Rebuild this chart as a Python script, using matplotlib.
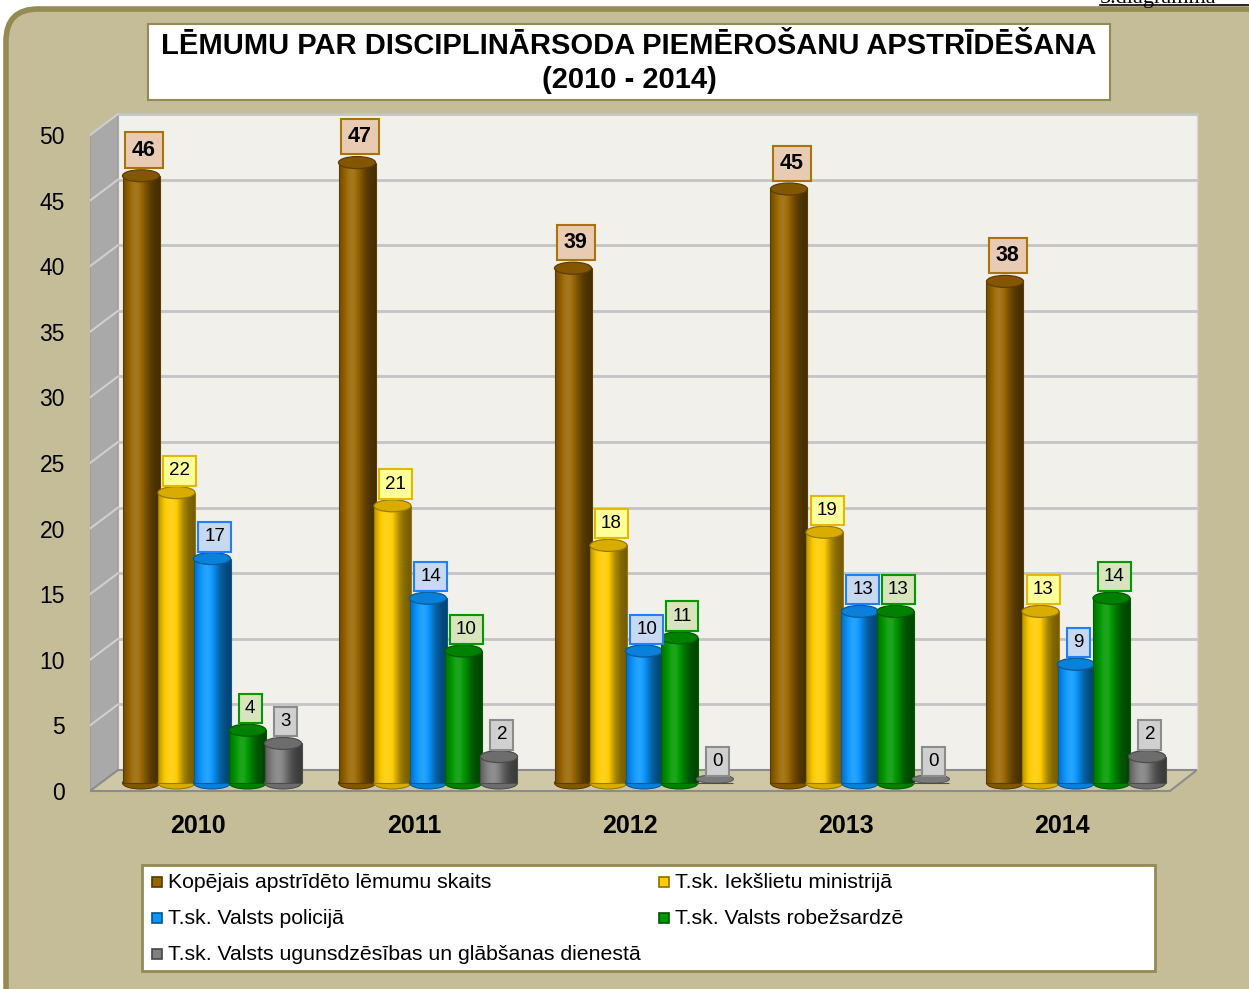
import numpy as np
import matplotlib
matplotlib.use("Agg")
import matplotlib.pyplot as plt
from matplotlib.patches import Ellipse, Polygon, Rectangle, FancyBboxPatch
from matplotlib.colors import to_rgb

plt.rcParams["font.family"] = ["Liberation Sans", "DejaVu Sans"]

# --- data ---------------------------------------------------------------
years = ["2010", "2011", "2012", "2013", "2014"]
series_names = [
    "Kopējais apstrīdēto lēmumu skaits",
    "T.sk. Iekšlietu ministrijā",
    "T.sk. Valsts policijā",
    "T.sk. Valsts robežsardzē",
    "T.sk. Valsts ugunsdzēsības un glābšanas dienestā",
]
total = [46, 47, 39, 45, 38]
interior = [22, 21, 18, 19, 13]
police = [17, 14, 10, 13, 9]
border_guard = [4, 10, 11, 13, 14]
fire_rescue = [3, 2, 0, 0, 2]
series = [total, interior, police, border_guard, fire_rescue]
yticks = list(range(0, 51, 5))

bar_colors = ["#996600", "#FFCC00", "#0A96FF", "#009900", "#808080"]
box_faces = ["#E8CBB2", "#FFFF99", "#C6D9F1", "#D8E4BC", "#D0D0D0"]
box_edges = ["#A8730A", "#E6B800", "#1E7FFF", "#009900", "#8C8C8C"]

OLIVE = "#948A54"
TAN = "#C4BD97"

# --- geometry helpers (pixel layout of the reference) --------------------
W, H = 1249, 989
PX_PER_UNIT = 13.2       # vertical pixels per value unit
WALL_PX_PER_UNIT = 13.12 # spacing of the gridlines / tick labels
BASE_PX = 783            # pixel row of value 0 (bar bottoms)
GROUP_PX0 = 212          # pixel column of first group centre
GROUP_STEP = 216         # pixels between groups


def ux(px):
    return (px - GROUP_PX0) / GROUP_STEP


def uy(py):
    return (BASE_PX - py) / PX_PER_UNIT


def shade_strip(color, n=80):
    rgb = np.array(to_rgb(color))
    t = np.linspace(0, 1, n)
    s = 0.6 + 0.6 * np.exp(-((t - 0.36) / 0.3) ** 2)
    s -= 0.15 * t
    out = np.empty((1, n, 3))
    for i, k in enumerate(s):
        if k <= 1:
            out[0, i] = rgb * k
        else:
            out[0, i] = rgb + (1 - rgb) * (k - 1) * 0.8
    return np.clip(out, 0, 1)


fig = plt.figure(figsize=(W / 100, H / 100), dpi=100)

# background / decoration axes in pixel coordinates
bg = fig.add_axes([0, 0, 1, 1], zorder=0)
bg.set_xlim(0, W)
bg.set_ylim(H, 0)
bg.axis("off")
bg.add_patch(FancyBboxPatch((6, 9), 1270, 1010,
                            boxstyle="round,pad=0,rounding_size=32",
                            fc=TAN, ec=OLIVE, lw=4))
bg.add_patch(Rectangle((148, 24), 962, 76, fc="white", ec=OLIVE, lw=1.5))
bg.text(629, 46, "LĒMUMU PAR DISCIPLINĀRSODA PIEMĒROŠANU APSTRĪDĒŠANA",
        ha="center", va="center", fontsize=21, fontweight="bold")
bg.text(629, 80, "(2010 - 2014)", ha="center", va="center",
        fontsize=21, fontweight="bold")
bg.text(1100, 3, "5.diagramma", ha="left", va="baseline",
        fontsize=16, family="Liberation Serif", clip_on=True)
bg.plot([1100, 1249], [5, 5], color="black", lw=1.2)

# legend (manual, row-major as in the reference)
bg.add_patch(Rectangle((142, 865), 1013, 106, fc="white", ec=OLIVE, lw=2))
leg_pos = [(157, 882), (664, 882), (157, 918), (664, 918), (157, 954)]
for (lx, ly), name, col in zip(leg_pos, series_names, bar_colors):
    dark = np.array(to_rgb(col)) * 0.55
    bg.add_patch(Rectangle((lx - 5, ly - 5), 10, 10, fc=col, ec=dark, lw=1.2))
    bg.text(lx + 11, ly + 1, name, ha="left", va="center", fontsize=15.3)

# main plotting axes
ax_l, ax_r, ax_t, ax_b = 90, 1200, 105, 795
ax = fig.add_axes([ax_l / W, 1 - ax_b / H, (ax_r - ax_l) / W, (ax_b - ax_t) / H],
                  zorder=1)
ax.patch.set_visible(False)
for sp in ax.spines.values():
    sp.set_visible(False)

xf0, xf1 = ux(90), ux(1170)
xb0, xb1 = ux(118), ux(1197)


def front_y(v):
    return uy(791 - WALL_PX_PER_UNIT * v)


def back_y(v):
    return uy(770 - WALL_PX_PER_UNIT * v)


# walls and floor
ax.add_patch(Polygon([(xb0, back_y(0)), (xb1, back_y(0)), (xb1, back_y(50)),
                      (xb0, back_y(50))], closed=True, fc="#F1F0EA",
                     ec="#D8D8D8", lw=1, zorder=0.5))
ax.add_patch(Polygon([(xf0, front_y(0)), (xb0, back_y(0)), (xb0, back_y(50)),
                      (xf0, front_y(50))], closed=True, fc="#A9A9A9",
                     ec="#9A9A9A", lw=1, zorder=0.6))
ax.add_patch(Polygon([(xf0, front_y(0)), (xf1, front_y(0)), (xb1, back_y(0)),
                      (xb0, back_y(0))], closed=True, fc="#CFC8A7",
                     ec="#8C8C8C", lw=1.5, zorder=0.7))
for v in yticks[1:]:
    ax.plot([xb0, xb1], [back_y(v)] * 2, color="#C4C4C4", lw=2, zorder=0.55)
    ax.plot([xf0, xb0], [front_y(v), back_y(v)], color="#CFCFCF",
            lw=1.5, zorder=0.65)

# cylinders
n = len(series)
step = 35.5 / GROUP_STEP
width = 37 / GROUP_STEP
eh = 12 / PX_PER_UNIT
x_groups = np.arange(len(years))
for j, (vals, col) in enumerate(zip(series, bar_colors)):
    xs = x_groups + (j - (n - 1) / 2) * step
    z = 2 + j
    rgb = np.array(to_rgb(col))
    edge = rgb * 0.6
    bars = ax.bar(xs, vals, width=width, bottom=0, fc="none", ec=edge,
                  lw=0.8, zorder=z + 0.2)
    strip = shade_strip(col)
    for x, v, rect in zip(xs, vals, bars):
        if v == 0:
            ax.add_patch(Ellipse((x, 0.3), width, eh * 0.7, fc="#7A7A7A",
                                 ec="#5A5A5A", lw=0.8, zorder=z))
        else:
            ax.add_patch(Ellipse((x, 0), width, eh, fc=rgb * 0.85,
                                 ec=edge, lw=0.8, zorder=z))
            img = ax.imshow(strip, extent=(x - width / 2, x + width / 2, 0, v),
                            aspect="auto", interpolation="bicubic",
                            zorder=z + 0.1)
            img.set_clip_path(rect)
            ax.add_patch(Ellipse((x, v), width, eh, fc=rgb * 0.85,
                                 ec=edge, lw=0.9, zorder=z + 0.3))
        bold = j == 0
        ax.annotate(str(v), (x, v), xytext=(2, 11 if bold else 9.5),
                    textcoords="offset points", ha="center", va="bottom",
                    fontsize=15.5 if bold else 13.5,
                    fontweight="bold" if bold else "normal",
                    bbox=dict(boxstyle="square,pad=0.33", fc=box_faces[j],
                              ec=box_edges[j], lw=1.5),
                    zorder=20)

ax.set_xlim(ux(ax_l), ux(ax_r))
ax.set_ylim(uy(ax_b), uy(ax_t))
ax.set_yticks([front_y(v) for v in yticks])
ax.set_yticklabels([str(v) for v in yticks], fontsize=16.5)
ax.set_xticks(x_groups - 14 / GROUP_STEP)
ax.set_xticklabels(years, fontsize=18, fontweight="bold")
ax.tick_params(axis="y", length=0, pad=18)
ax.tick_params(axis="x", length=0, pad=14)

fig.savefig("out.png", dpi=100)
